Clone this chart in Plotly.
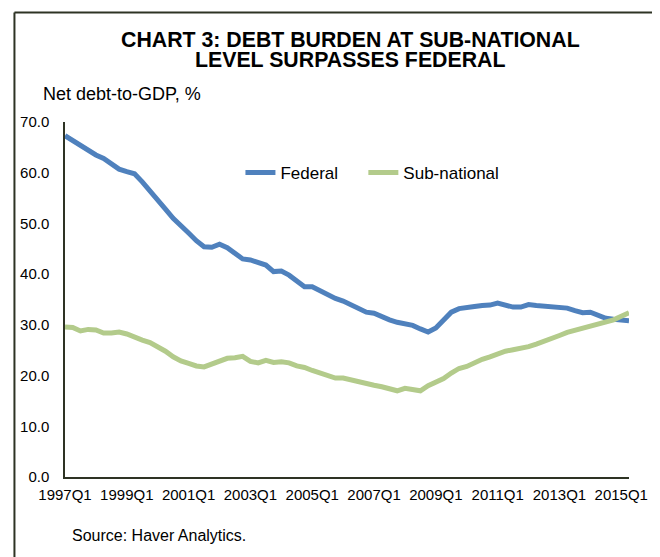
import plotly.graph_objects as go

# Quarterly periods 1997Q1 .. 2015Q2
quarters = [f"{y}Q{q}" for y in range(1997, 2016) for q in range(1, 5)][:74]

federal = [
    67.3, 66.3, 65.3, 64.3, 63.5, 62.8, 61.8, 60.7, 60.2, 59.8,
    58.2, 56.5, 54.7, 52.8, 51.0, 49.4, 48.1, 46.6, 45.4, 45.3,
    45.9, 45.2, 44.1, 43.0, 42.8, 42.3, 41.8, 40.5, 40.6, 39.8,
    38.6, 37.5, 37.5, 36.7, 36.0, 35.2, 34.7, 34.0, 33.3, 32.5,
    32.3, 31.6, 31.0, 30.5, 30.2, 29.9, 29.2, 28.6, 29.4, 31.0,
    32.5, 33.2, 33.5, 33.6, 33.8, 33.9, 34.3, 33.9, 33.5, 33.5,
    34.0, 33.8, 33.7, 33.6, 33.5, 33.3, 32.8, 32.4, 32.5, 31.8,
    31.3, 31.1, 30.9, 30.8,
]

sub_national = [
    29.6, 29.5, 28.8, 29.1, 29.0, 28.4, 28.4, 28.6, 28.2, 27.5,
    27.0, 26.5, 25.7, 24.8, 23.7, 22.9, 22.4, 21.9, 21.7, 22.3,
    22.9, 23.4, 23.5, 23.8, 22.8, 22.5, 23.0, 22.6, 22.7, 22.5,
    21.9, 21.6, 21.0, 20.5, 19.9, 19.5, 19.5, 19.1, 18.7, 18.4,
    18.1, 17.8, 17.4, 17.0, 17.5, 17.3, 17.0, 18.0, 18.7, 19.4,
    20.5, 21.4, 21.8, 22.6, 23.2, 23.7, 24.3, 24.8, 25.1, 25.3,
    25.7, 26.2, 26.7, 27.3, 27.9, 28.5, 28.9, 29.3, 29.7, 30.1,
    30.5, 31.0, 31.7, 32.4,
]

tick_labels = ["1997Q1", "1999Q1", "2001Q1", "2003Q1", "2005Q1",
               "2007Q1", "2009Q1", "2011Q1", "2013Q1", "2015Q1"]
y_ticks = [0, 10, 20, 30, 40, 50, 60, 70]

title_line1 = "CHART 3: DEBT BURDEN AT SUB-NATIONAL"
title_line2 = "LEVEL SURPASSES FEDERAL"
y_title = "Net debt-to-GDP, %"
source = "Source: Haver Analytics."

FONT = "Liberation Sans, Arial, sans-serif"
AXIS = "#2e3324"

fig = go.Figure()
fig.add_trace(go.Scatter(x=quarters, y=federal, mode="lines", name="Federal",
                         legend="legend",
                         line=dict(color="#4F81BD", width=5)))
fig.add_trace(go.Scatter(x=quarters, y=sub_national, mode="lines", name="Sub-national",
                         legend="legend2",
                         line=dict(color="#B3CB8B", width=5)))

# page body has an 8px margin, so the figure is 8px smaller on each side
OFF = 8
L, R, T, B = 61 - OFF, 30, 122 - OFF, 80
W, H = 660 - OFF, 557 - OFF
pw, ph = W - L - R, H - T - B


def px(xp):
    return (xp - OFF - L) / pw


def py(yp):
    return (H - B - (yp - OFF)) / ph


legend_common = dict(orientation="h", xanchor="left", yanchor="middle",
                     font=dict(size=17), bgcolor="rgba(0,0,0,0)")

fig.update_layout(
    width=W, height=H,
    margin=dict(l=L, r=R, t=T, b=B),
    paper_bgcolor="white", plot_bgcolor="white",
    font=dict(family=FONT, color="black", size=15),
    showlegend=True,
    legend=dict(x=px(238), y=py(173), **legend_common),
    legend2=dict(x=px(362), y=py(173), **legend_common),
    xaxis=dict(type="category", range=[0, len(quarters) - 1],
               tickmode="array", tickvals=tick_labels, ticktext=tick_labels,
               tickangle=0, showgrid=False, zeroline=False,
               showline=True, linecolor=AXIS, linewidth=1.5,
               ticks="", tickfont=dict(size=15), ticklabelstandoff=3),
    yaxis=dict(range=[0, 70], tickmode="array", tickvals=y_ticks,
               ticktext=[f"{v:.1f}" for v in y_ticks],
               showgrid=False, zeroline=False,
               showline=True, linecolor=AXIS, linewidth=1.5,
               ticks="", tickfont=dict(size=15), ticklabelstandoff=11),
)

ann = [
    dict(text=f"<b>{title_line1}</b>", x=px(349), y=py(39.5), font=dict(size=21.3)),
    dict(text=f"<b>{title_line2}</b>", x=px(349), y=py(59.5), font=dict(size=21.3)),
]
for a in ann:
    fig.add_annotation(xref="paper", yref="paper", showarrow=False,
                       xanchor="center", yanchor="middle", **a)

fig.add_annotation(xref="paper", yref="paper", showarrow=False, text=y_title,
                   x=px(37), y=py(94), xanchor="left", yanchor="middle",
                   font=dict(size=18))
fig.add_annotation(xref="paper", yref="paper", showarrow=False, text=source,
                   x=px(66), y=py(535), xanchor="left", yanchor="middle",
                   font=dict(size=16))

# outer frame (left and top edges of the chart box)
fig.add_shape(type="line", xref="paper", yref="paper",
              x0=px(10), y0=py(12.5), x1=px(662), y1=py(12.5),
              line=dict(color=AXIS, width=2))
fig.add_shape(type="line", xref="paper", yref="paper",
              x0=px(10), y0=py(12.5), x1=px(10), y1=py(560),
              line=dict(color=AXIS, width=2))

fig.write_html("out.html")
